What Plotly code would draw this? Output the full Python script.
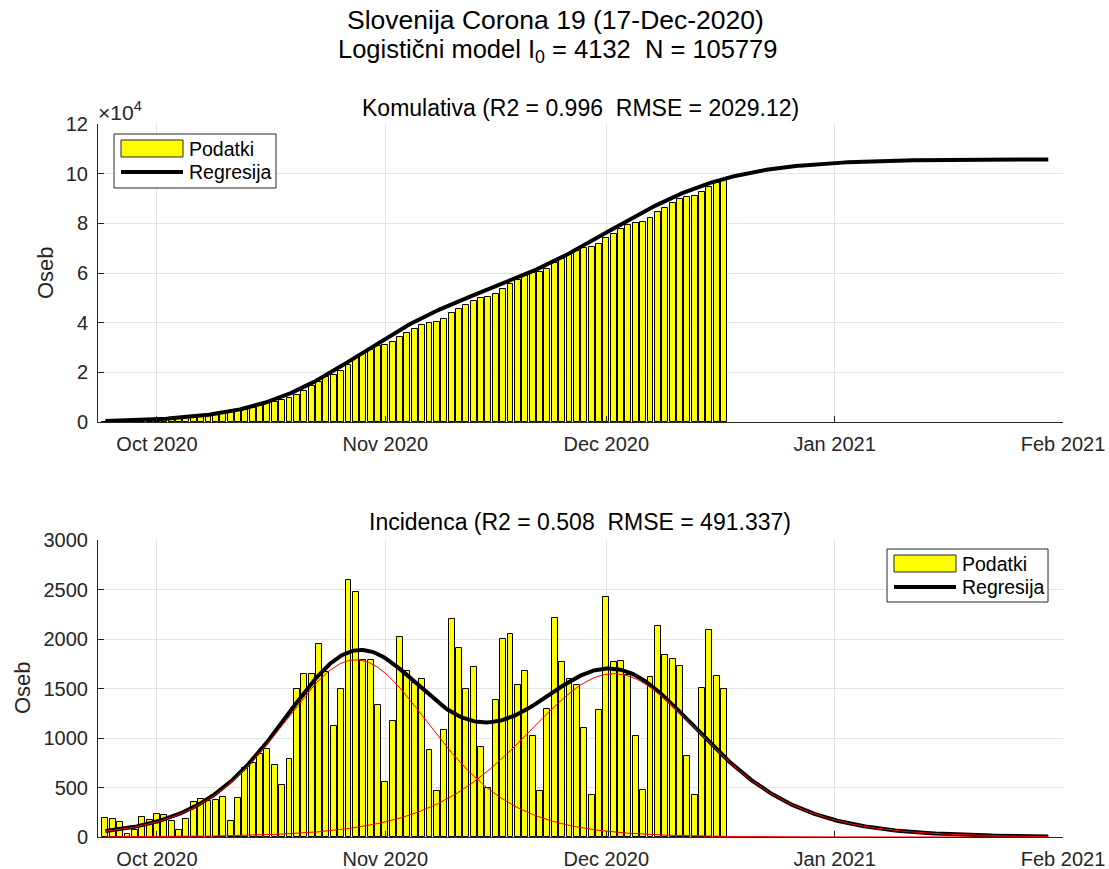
import numpy as np
import pandas as pd
import plotly.graph_objects as go

# ---------------- data ----------------
start_date = "2020-09-24"
incidence = [190, 183, 150, 33, 70, 200, 173, 233, 223, 160,
             73, 183, 353, 380, 367, 373, 400, 163, 393, 700,
             743, 840, 890, 723, 530, 790, 1490, 1650, 1650, 1953,
             1663, 1117, 1493, 2593, 2473, 1790, 1790, 1330, 557, 1173,
             2020, 1677, 1557, 1600, 883, 467, 1083, 2200, 1910, 1500,
             1720, 913, 493, 1383, 2000, 2053, 1540, 1680, 1023, 467,
             1293, 2210, 1763, 1600, 1540, 1100, 423, 1280, 2420, 1763,
             1773, 1633, 1023, 473, 1620, 2133, 1840, 1800, 1730, 823,
             423, 1510, 2090, 1630, 1500]
dates = pd.date_range(start_date, periods=len(incidence), freq="D")
cumulative = np.cumsum(incidence)

# two-wave logistic model parameters (fit)
K1, r1, t1 = 50780.0, 0.141, "2020-10-28"
K2, r2, t2 = 55000.0, 0.120, "2020-12-02"
model_end = "2021-01-30"

month_ticks = ["2020-10-01", "2020-11-01", "2020-12-01", "2021-01-01", "2021-02-01"]
month_labels = ["Oct 2020", "Nov 2020", "Dec 2020", "Jan 2021", "Feb 2021"]
top_yticks = [0, 20000, 40000, 60000, 80000, 100000, 120000]
top_ylabels = ["0", "2", "4", "6", "8", "10", "12"]
bot_yticks = [0, 500, 1000, 1500, 2000, 2500, 3000]

# ---------------- model curves ----------------
tm = pd.date_range(start_date, model_end, freq="6h")
def days(a, b):
    return (a - pd.Timestamp(b)) / pd.Timedelta(days=1)
d1 = np.asarray(days(tm, t1), dtype=float)
d2 = np.asarray(days(tm, t2), dtype=float)
C1 = K1 / (1 + np.exp(-r1 * d1))
C2 = K2 / (1 + np.exp(-r2 * d2))
f1 = K1 * r1 * np.exp(-r1 * d1) / (1 + np.exp(-r1 * d1)) ** 2
f2 = K2 * r2 * np.exp(-r2 * d2) / (1 + np.exp(-r2 * d2)) ** 2

# ---------------- figure ----------------
W, H = 1109, 869
OFF = 0  # body margin removed by post_script
def px(x):
    return (x - OFF) / W
def py(y):
    return 1 - (y - OFF) / H

FONT = "Liberation Sans, Arial, Helvetica, sans-serif"
AX = "#262626"
GRID = "#e3e3e3"
bar_w = 0.8 * 86400000

fig = go.Figure()
fig.add_trace(go.Bar(x=dates, y=cumulative, width=bar_w,
                     marker=dict(color="#FFFF00", line=dict(color="black", width=1)),
                     xaxis="x", yaxis="y", showlegend=False))
fig.add_trace(go.Scatter(x=tm, y=C1 + C2, mode="lines", line=dict(color="black", width=4),
                         xaxis="x", yaxis="y", showlegend=False))
fig.add_trace(go.Bar(x=dates, y=incidence, width=bar_w,
                     marker=dict(color="#FFFF00", line=dict(color="black", width=1)),
                     xaxis="x2", yaxis="y2", showlegend=False))
fig.add_trace(go.Scatter(x=tm, y=f1 + f2, mode="lines", line=dict(color="black", width=4),
                         xaxis="x2", yaxis="y2", showlegend=False))
fig.add_trace(go.Scatter(x=tm, y=f1, mode="lines", line=dict(color="#FF0000", width=1),
                         xaxis="x2", yaxis="y2", showlegend=False))
fig.add_trace(go.Scatter(x=tm, y=f2, mode="lines", line=dict(color="#FF0000", width=1),
                         xaxis="x2", yaxis="y2", showlegend=False))

xcommon = dict(type="date", range=["2020-09-23", "2021-02-01"],
               tickvals=month_ticks, ticktext=month_labels, automargin=False,
               ticks="inside", ticklen=6, tickcolor=AX, showline=True, linecolor=AX, linewidth=1,
               showgrid=True, gridcolor=GRID, gridwidth=1, zeroline=False, mirror=False,
               tickfont=dict(family=FONT, size=20, color=AX), ticklabelstandoff=4)
ycommon = dict(ticks="inside", ticklen=6, tickcolor=AX, showline=True, linecolor=AX, linewidth=1,
               showgrid=True, gridcolor=GRID, gridwidth=1, zeroline=False, mirror=False,
               automargin=False,
               tickfont=dict(family=FONT, size=20, color=AX), ticklabelstandoff=5)

fig.update_layout(
    width=W, height=H,
    margin=dict(l=0, r=0, t=0, b=0, autoexpand=False),
    paper_bgcolor="white", plot_bgcolor="white",
    barmode="overlay", bargap=0,
    font=dict(family=FONT, color=AX),
    xaxis=dict(domain=[px(98), px(1063)], anchor="y", **xcommon),
    yaxis=dict(domain=[py(422), py(124)], anchor="x", range=[0, 120000],
               tickvals=top_yticks, ticktext=top_ylabels, **ycommon),
    xaxis2=dict(domain=[px(98), px(1063)], anchor="y2", **xcommon),
    yaxis2=dict(domain=[py(837), py(540)], anchor="x2", range=[0, 3000],
                tickvals=bot_yticks, **ycommon),
)

ann = []
def text(x, y, s, size=19, color=AX, xanchor="center", yanchor="middle", angle=0):
    ann.append(dict(x=px(x), y=py(y), xref="paper", yref="paper", text=s, showarrow=False,
                    xanchor=xanchor, yanchor=yanchor, textangle=angle,
                    font=dict(family=FONT, size=size, color=color)))

text(555, 20, "Slovenija Corona 19 (17-Dec-2020)", size=26.5, color="black")
text(557, 51, "Logistični model I<sub>0</sub> = 4132\u00a0 N = 105779", size=25.5, color="black")
text(580, 108, "Komulativa (R2 = 0.996\u00a0 RMSE = 2029.12)", size=23, color="black")
text(580, 522, "Incidenca (R2 = 0.508\u00a0 RMSE = 491.337)", size=23, color="black")
text(45, 273, "Oseb", size=22, angle=-90)
text(22, 688, "Oseb", size=22, angle=-90)
text(96, 111, "×10<sup>4</sup>", size=21, xanchor="left")

shapes = []
def legend(x0, y0, x1, y1):
    shapes.append(dict(type="rect", xref="paper", yref="paper", x0=px(x0), x1=px(x1),
                       y0=py(y1), y1=py(y0), line=dict(color="#262626", width=1), fillcolor="white"))
    ry0 = y0 + 6; ry1 = ry0 + 17
    shapes.append(dict(type="rect", xref="paper", yref="paper", x0=px(x0 + 7), x1=px(x0 + 69),
                       y0=py(ry1), y1=py(ry0), line=dict(color="#262626", width=1), fillcolor="#FFFF00"))
    ly = y0 + 38
    shapes.append(dict(type="line", xref="paper", yref="paper", x0=px(x0 + 7), x1=px(x0 + 69),
                       y0=py(ly), y1=py(ly), line=dict(color="black", width=4)))
    text(x0 + 73, (ry0 + ry1) / 2, "Podatki", size=19.5, color="black", xanchor="left")
    text(x0 + 73, ly, "Regresija", size=19.5, color="black", xanchor="left")

legend(114, 134, 276, 188)
legend(887, 549, 1048, 602)

fig.update_layout(annotations=ann, shapes=shapes)
fig.write_html("out.html", config={"displayModeBar": False},
               post_script="document.body.style.margin='0px';")
